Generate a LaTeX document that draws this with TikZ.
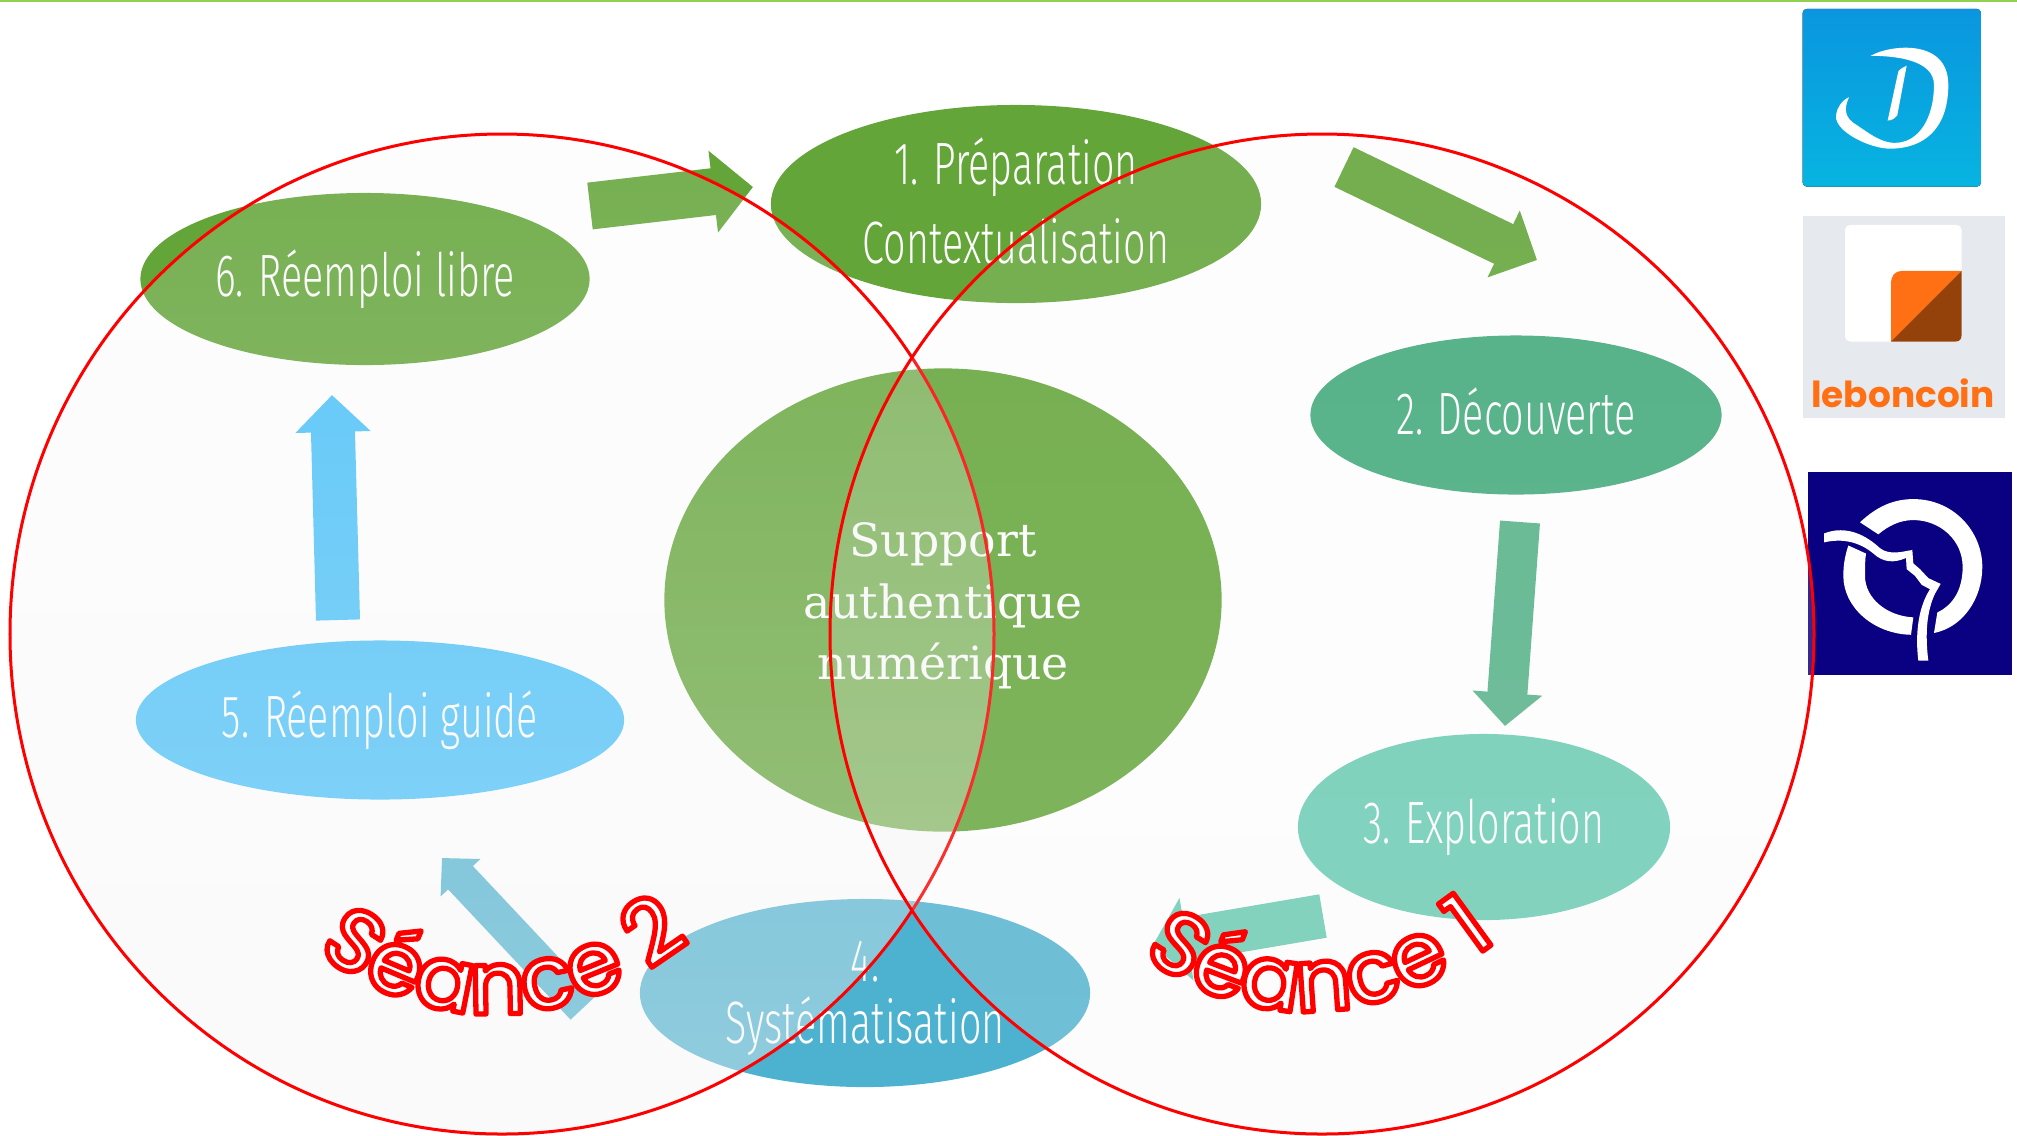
\documentclass[tikz,border=0pt]{standalone}
\usepackage{fontspec}
\usetikzlibrary{shapes.geometric,arrows.meta,decorations.text,fadings}
\newfontfamily\stepfont[FakeStretch=0.66]{Fira Sans Light}
\newfontfamily\supportfont{DejaVu Serif}
\newfontfamily\seancefont{Poppins Medium}
\newfontfamily\logofont{Poppins}
\definecolor{prepgreen}{HTML}{63A538}
\definecolor{decgreen}{HTML}{3FA979}
\definecolor{expteal}{HTML}{67CBB2}
\definecolor{sysblue}{HTML}{4DB2D0}
\definecolor{reusblue}{HTML}{47C1FA}
\definecolor{topgreen}{HTML}{92D050}
\definecolor{lbcgrey}{HTML}{E6E9EE}
\definecolor{lbcorange}{HTML}{FF7014}
\definecolor{lbcbrown}{HTML}{94410A}
\definecolor{ratpnavy}{HTML}{0A0082}
\definecolor{logotop}{HTML}{0A96DF}
\definecolor{logobot}{HTML}{07B4E0}
\definecolor{veil}{HTML}{F2F2F2}
\tikzfading[name=leftveil,top color=transparent!87,bottom color=transparent!58]
\tikzfading[name=rightveil,top color=transparent!88,bottom color=transparent!78]
\tikzset{
  stepnode/.style={ellipse,inner sep=0pt,text=white,align=center,
    font=\stepfont\fontsize{17}{22.5}\selectfont},
  seance/.style={decorate,decoration={text along path,text align=center,
    text={|\seancefont\fontsize{25}{25}\selectfont\color{white}\special{pdf:code 2 Tr 1.5 w 1 0 0 RG 1 J 1 j}|#1}}},
}
\begin{document}
\begin{tikzpicture}[x=0.01cm,y=-0.01cm]
\useasboundingbox (0,0) rectangle (2017,1135);
\draw[topgreen,line width=0.02cm] (0,1) -- (2017,1);
% support
\node[stepnode,fill=prepgreen,minimum width=5.57cm,minimum height=4.63cm,
  font=\supportfont\fontsize{13}{17.4}\selectfont] (support) at (943,600)
  {\rule{0pt}{13pt}Support\\ authentique\\ numérique};
% step 1
\node[stepnode,fill=prepgreen,minimum width=4.9cm,minimum height=1.98cm] (prep) at (1016,204)
  {1. Préparation\\ Contextualisation\rule[-1.7pt]{0pt}{0pt}};
% step 2
\node[stepnode,fill=decgreen,minimum width=4.11cm,minimum height=1.59cm] (decouv) at (1516,415)
  {2. Découverte\rule[-2.3pt]{0pt}{0pt}};
% step 3
\node[stepnode,fill=expteal,minimum width=3.72cm,minimum height=1.86cm] (explo) at (1484,827)
  {3. Exploration};
% step 4
\node[stepnode,fill=sysblue,minimum width=4.5cm,minimum height=1.88cm,
  font=\stepfont\fontsize{17}{17.6}\selectfont] (syst) at (865,993)
  {\rule{0pt}{14.5pt}4.\\ Systématisation};
% step 5
\node[stepnode,fill=reusblue,minimum width=4.88cm,minimum height=1.59cm] (guide) at (380,720)
  {5. Réemploi guidé};
% step 6
\node[stepnode,fill=prepgreen,minimum width=4.49cm,minimum height=1.72cm] (libre) at (365,279)
  {6. Réemploi libre};
% arrows
\coordinate (libreout) at (590,206);
\coordinate (prepin) at (753,187);
\coordinate (prepout) at (1344,167);
\coordinate (decouvin) at (1537,260);
\coordinate (decouvout) at (1520,522);
\coordinate (exploin) at (1505,726);
\coordinate (exploout) at (1323,916);
\coordinate (systin) at (1153,945);
\coordinate (systout) at (583,1008);
\coordinate (guidein) at (442,858);
\coordinate (guideout) at (338,620);
\coordinate (librein) at (332,395);
\draw[prepgreen,line width=0.47cm,-{Triangle[length=0.4cm,width=0.8cm]}] (libreout) -- (prepin);
\draw[prepgreen,line width=0.44cm,-{Triangle[length=0.37cm,width=0.72cm]}] (prepout) -- (decouvin);
\draw[decgreen!90!white,line width=0.4cm,-{Triangle[length=0.33cm,width=0.68cm]}] (decouvout) -- (exploin);
\draw[expteal,line width=0.44cm,-{Triangle[length=0.34cm,width=0.82cm]}] (exploout) -- (systin);
\draw[sysblue,line width=0.34cm,-{Triangle[length=0.27cm,width=0.53cm]}] (systout) -- (guidein);
\draw[reusblue,line width=0.44cm,-{Triangle[length=0.37cm,width=0.73cm]}] (guideout) -- (librein);
% logo D
\begin{scope}[shift={(1780,0)},xscale=0.3333,yscale=0.4464]
\fill[top color=logotop,bottom color=logobot,rounded corners=0.04cm] (68,20) rectangle (603,418);
\fill[white] (272,125) .. controls (330,100) and (505,85) .. (505,190)
  .. controls (505,290) and (430,333) .. (330,333)
  .. controls (270,333) and (165,295) .. (168,260)
  .. controls (170,240) and (190,222) .. (207,218)
  .. controls (190,245) and (195,265) .. (230,280)
  .. controls (270,300) and (300,318) .. (340,320)
  .. controls (420,322) and (462,260) .. (462,190)
  .. controls (462,135) and (350,125) .. (272,125) -- cycle;
\fill[white] (380,147) -- (352,258) .. controls (345,265) and (335,270) .. (323,270) -- (355,160) .. controls (360,155) and (370,150) .. (380,147) -- cycle;
% logo leboncoin
\fill[lbcgrey] (68,484) rectangle (675,936);
\fill[white,rounded corners=0.05cm] (195,504) rectangle (545,765);
\fill[lbcorange] (333,765) -- (333,637) .. controls (333,617) and (345,607) .. (365,607) -- (545,607) -- cycle;
\fill[lbcbrown] (545,607) -- (545,750) .. controls (545,760) and (538,765) .. (528,765) -- (333,765) -- cycle;
\node[anchor=base,inner sep=0pt,text=lbcorange,font=\logofont\bfseries\fontsize{10.2}{11}\selectfont] (bonlogo) at (369,912) {leboncoin};
% logo ratp
\fill[ratpnavy] (84,1057) rectangle (696,1513);
\fill[white] (240,1170) .. controls (290,1135) and (340,1118) .. (400,1118)
  .. controls (520,1118) and (607,1190) .. (607,1270)
  .. controls (607,1340) and (550,1405) .. (462,1418) -- (472,1372)
  .. controls (520,1355) and (548,1320) .. (548,1270)
  .. controls (548,1210) and (480,1165) .. (400,1165)
  .. controls (360,1165) and (325,1178) .. (295,1197) -- cycle;
\fill[white] (205,1222) .. controls (195,1245) and (190,1265) .. (190,1290)
  .. controls (190,1360) and (280,1420) .. (393,1422) -- (400,1383)
  .. controls (320,1380) and (255,1340) .. (255,1290)
  .. controls (255,1270) and (255,1255) .. (258,1240) -- cycle;
\fill[white] (132,1195) .. controls (200,1175) and (260,1200) .. (300,1228)
  .. controls (330,1245) and (370,1235) .. (397,1232) -- (400,1262)
  -- (420,1275) -- (445,1295) -- (482,1308) -- (465,1330)
  .. controls (440,1370) and (435,1420) .. (445,1480) -- (415,1480)
  .. controls (405,1420) and (415,1360) .. (450,1320) -- (425,1310)
  -- (405,1290) -- (380,1275) -- (378,1250)
  .. controls (340,1262) and (310,1260) .. (280,1240)
  .. controls (240,1215) and (190,1205) .. (132,1215) -- cycle;
\end{scope}
% circles
\fill[veil,path fading=leftveil] (502,634) ellipse [x radius=492,y radius=500];
\draw[red,line width=0.03cm] (502,634) ellipse [x radius=492,y radius=500];
\fill[veil,path fading=rightveil] (1322,634) ellipse [x radius=492,y radius=500];
\draw[red,line width=0.03cm] (1322,634) ellipse [x radius=492,y radius=500];
% seance labels
\path[seance={Séance 2}] (322,955) .. controls (420,1030) and (560,1040) .. (685,945);
\path[seance={Séance 1}] (1140,953) .. controls (1235,1028) and (1375,1038) .. (1500,938);
\special{pdf:code 0 Tr}
\end{tikzpicture}
\end{document}
